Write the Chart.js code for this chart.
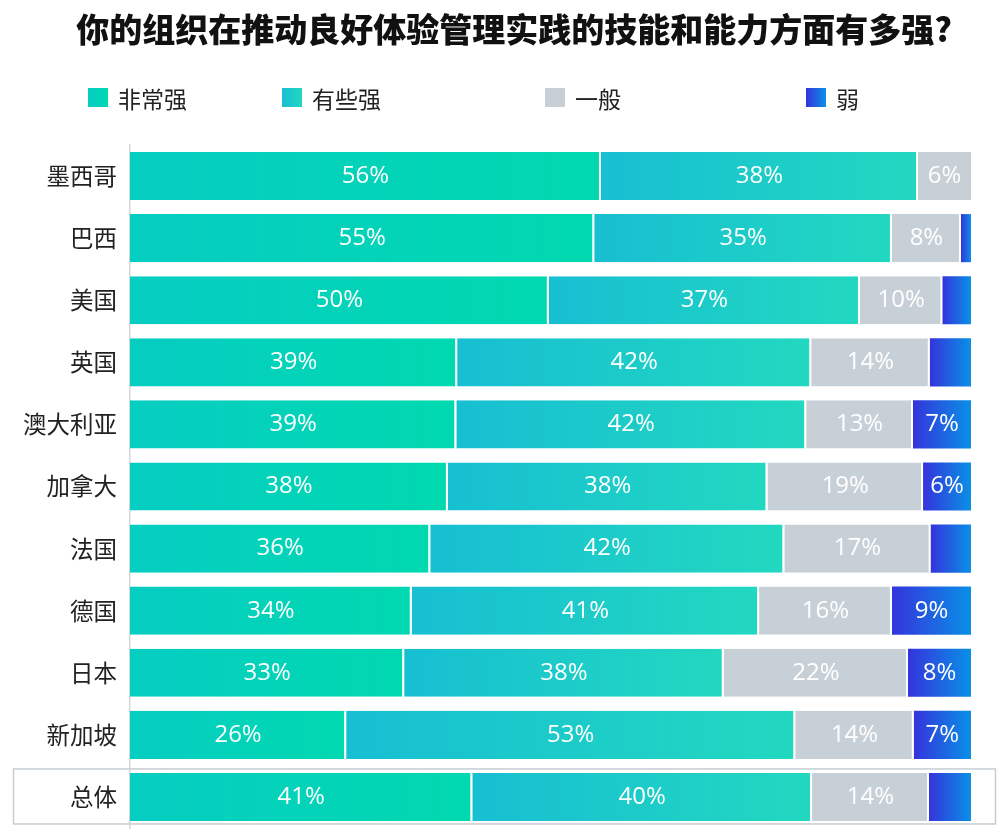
<!DOCTYPE html>
<html>
<head>
<meta charset="utf-8">
<script src="https://cdn.jsdelivr.net/npm/chart.js@4/dist/chart.umd.min.js"></script>
<style>
html,body{margin:0;padding:0;background:#fff;}
#wrap{width:1000px;height:840px;position:relative;}
</style>
</head>
<body>
<div id="wrap"><canvas id="c" width="1000" height="840"></canvas></div>
<script>
const titleText = '你的组织在推动良好体验管理实践的技能和能力方面有多强?';
const categories = ['墨西哥','巴西','美国','英国','澳大利亚','加拿大','法国','德国','日本','新加坡','总体'];
const seriesNames = ['非常强','有些强','一般','弱'];
const veryStrong     = [56.0, 55.2, 49.8, 38.9, 38.8, 37.8, 35.7, 33.5, 32.6, 25.7, 40.7];
const somewhatStrong = [37.7, 35.4, 37.0, 42.1, 41.6, 38.0, 42.1, 41.3, 38.0, 53.4, 40.4];
const average        = [ 6.3,  8.2,  9.8, 14.1, 12.7, 18.5, 17.4, 15.8, 21.9, 14.1, 13.9];
const weak           = [ 0.0,  1.2,  3.4,  4.9,  6.9,  5.7,  4.8,  9.4,  7.5,  6.8,  5.0];
const seriesValues = [veryStrong, somewhatStrong, average, weak];
const colorStops = [
  ['#06CDC2', '#00D9B0'],
  ['#17BFD2', '#22D8C0'],
  ['#C8D0D7', '#C8D0D7'],
  ['#3434DC', '#0A90E6']
];
const labelMin = 5.5;

const FONT_CJK = '"Noto Sans CJK SC", "Noto Sans", sans-serif';
const FONT_NUM = '"Open Sans", "Noto Sans", sans-serif';

function segmentGradient(ctx) {
  const di = ctx.datasetIndex;
  const stops = colorStops[di];
  if (ctx.type !== 'data') return stops[0];
  const chart = ctx.chart;
  const xs = chart.scales && chart.scales.x;
  if (!xs || !chart.chartArea) return stops[0];
  const i = ctx.dataIndex;
  let start = 0;
  for (let d = 0; d < di; d++) start += seriesValues[d][i];
  const v = seriesValues[di][i];
  const x0 = xs.getPixelForValue(start);
  const x1 = xs.getPixelForValue(start + v);
  if (!isFinite(x0) || !isFinite(x1) || x1 - x0 < 1) return stops[0];
  const g = chart.ctx.createLinearGradient(x0, 0, x1, 0);
  g.addColorStop(0, stops[0]);
  g.addColorStop(1, stops[1]);
  return g;
}

function segmentBorder(ctx) {
  if (ctx.type !== 'data') return 0;
  const di = ctx.datasetIndex, i = ctx.dataIndex;
  let later = 0;
  for (let d = di + 1; d < seriesValues.length; d++) later += seriesValues[d][i];
  return {top: 0, bottom: 0, left: 0, right: later > 0 ? 2 : 0};
}

const decorPlugin = {
  id: 'decor',
  beforeDatasetsDraw(chart) {
    const ctx = chart.ctx;
    const ys = chart.scales.y;
    const yc = ys.getPixelForValue(categories.length - 1);
    ctx.save();
    ctx.strokeStyle = '#C6CDD4';
    ctx.lineWidth = 1.5;
    ctx.strokeRect(13.5, yc - 28, 982, 55);
    ctx.restore();
  },
  afterDatasetsDraw(chart) {
    const ctx = chart.ctx;
    ctx.save();
    ctx.font = '24px ' + FONT_NUM;
    ctx.fillStyle = '#FFFFFF';
    ctx.textAlign = 'center';
    ctx.textBaseline = 'middle';
    chart.data.datasets.forEach((ds, di) => {
      const meta = chart.getDatasetMeta(di);
      meta.data.forEach((bar, i) => {
        const v = ds.data[i];
        if (v < labelMin) return;
        const p = bar.getProps(['x', 'base', 'y'], true);
        ctx.fillText(Math.round(v) + '%', (p.x + p.base) / 2, p.y);
      });
    });
    ctx.restore();
  },
  afterDraw(chart) {
    const ctx = chart.ctx;
    ctx.save();
    // title
    ctx.fillStyle = '#111111';
    ctx.font = '900 33px ' + FONT_CJK;
    ctx.textAlign = 'center';
    ctx.textBaseline = 'middle';
    ctx.fillText(titleText, 514, 29);
    // legend
    const legendX = [88, 282, 545, 806];
    ctx.font = '23px ' + FONT_CJK;
    ctx.textAlign = 'left';
    seriesNames.forEach((name, k) => {
      const x = legendX[k];
      const g = ctx.createLinearGradient(x, 0, x + 20, 0);
      g.addColorStop(0, colorStops[k][0]);
      g.addColorStop(1, colorStops[k][1]);
      ctx.fillStyle = g;
      ctx.fillRect(x, 88, 20, 19);
      ctx.fillStyle = '#222222';
      ctx.fillText(name, x + 30, 99);
    });
    ctx.restore();
  }
};

const datasets = seriesNames.map((name, di) => ({
  label: name,
  data: seriesValues[di],
  backgroundColor: segmentGradient,
  borderColor: '#FFFFFF',
  borderWidth: segmentBorder,
  borderSkipped: false,
  barPercentage: 0.775,
  categoryPercentage: 1.0
}));

new Chart(document.getElementById('c'), {
  type: 'bar',
  data: { labels: categories, datasets: datasets },
  options: {
    indexAxis: 'y',
    responsive: false,
    animation: false,
    events: [],
    layout: { padding: { top: 145, right: 29, bottom: 12, left: 0 } },
    plugins: {
      legend: { display: false },
      tooltip: { enabled: false },
      title: { display: false }
    },
    scales: {
      x: { stacked: true, min: 0, max: 100, display: false },
      y: {
        stacked: true,
        grid: { display: false, drawTicks: false },
        border: { display: true, color: '#D3D7DC', width: 1.5 },
        ticks: { color: '#222222', font: { family: FONT_CJK, size: 23.5 }, padding: 13 },
        afterFit(scale) {
          scale.width = 130;
          scale.paddingTop = 0;
          scale.paddingBottom = 0;
        }
      }
    }
  },
  plugins: [decorPlugin]
});
</script>
</body>
</html>
